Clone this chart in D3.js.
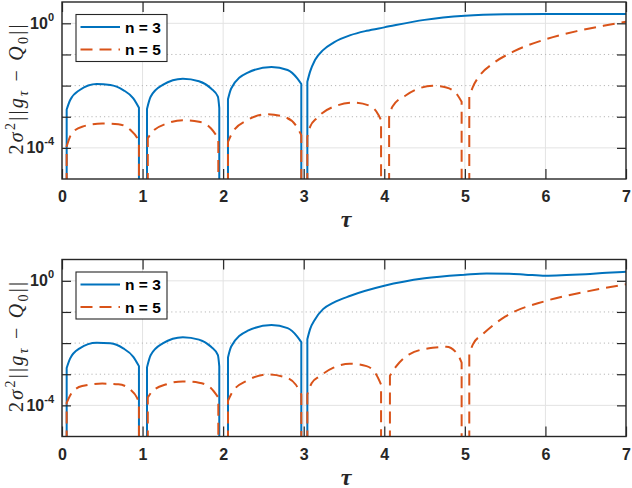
<!DOCTYPE html>
<html>
<head>
<meta charset="utf-8">
<script src="https://cdn.jsdelivr.net/npm/d3@7"></script>
<style>
  body { margin: 0; background: #fff; }
</style>
</head>
<body>
<div id="chart"></div>
<script>
// tick values
const xTicks = [0, 1, 2, 3, 4, 5, 6, 7];
const yTicks = [1e-4, 1e-3, 1e-2, 1e-1, 1];
const yLabelled = [1e-4, 1];
const seriesNames = ["n = 3", "n = 5"];

// each series is a list of arches, each arch a list of [tau, value]
// (the curve falls off the bottom of the axes at both ends of an arch)
const top3 = [
  [[0.058, 1.7e-3], [0.1, 3.39e-3], [0.22, 7.24e-3], [0.43, 1.12e-2], [0.6, 1.05e-2], [0.76, 7.2e-3], [0.885, 3.9e-3], [0.955, 1.95e-3]],
  [[1.055, 1.78e-3], [1.1, 4.37e-3], [1.25, 1.05e-2], [1.5, 1.66e-2], [1.7, 1.38e-2], [1.85, 8.1e-3], [1.935, 4.4e-3], [1.952, 1.9e-3]],
  [[2.06, 3.63e-3], [2.1, 8.1e-3], [2.3, 2.57e-2], [2.6, 3.98e-2], [2.8, 3.16e-2], [2.92, 1.7e-2], [2.97, 1.12e-2]],
  [[3.045, 1.32e-2], [3.078, 2.75e-2], [3.14, 6.6e-2], [3.24, 0.138], [3.37, 0.24], [3.58, 0.417], [3.78, 0.575],
   [4.0, 0.741], [4.5, 1.29], [5.0, 1.74], [5.5, 1.95], [6.0, 2.0], [7.0, 2.0]]
];
const top5 = [
  [[0.058, 1.12e-4], [0.12, 2.88e-4], [0.25, 4.79e-4], [0.5, 6.03e-4], [0.7, 5.75e-4], [0.85, 3.72e-4], [0.93, 2.14e-4], [0.955, 1.58e-4]],
  [[1.065, 2.04e-4], [1.12, 3.24e-4], [1.3, 6.03e-4], [1.5, 7.76e-4], [1.7, 6.92e-4], [1.85, 4.17e-4], [1.94, 2.0e-4]],
  [[2.06, 1.55e-4], [2.12, 3.24e-4], [2.3, 7.76e-4], [2.55, 1.2e-3], [2.75, 1.0e-3], [2.9, 5.37e-4], [2.97, 2.57e-4]],
  [[3.045, 2.24e-4], [3.08, 4.79e-4], [3.16, 8.9e-4], [3.37, 2.09e-3], [3.62, 2.82e-3], [3.83, 2.19e-3], [3.93, 1.12e-3], [3.96, 7.76e-4]],
  [[4.06, 1.0e-3], [4.1, 2.09e-3], [4.27, 4.9e-3], [4.6, 9.8e-3], [4.77, 8.7e-3], [4.91, 4.9e-3], [4.96, 3.02e-3]],
  [[5.055, 4.37e-3], [5.1, 9.1e-3], [5.19, 2.19e-2], [5.35, 5.13e-2], [5.6, 0.123], [5.97, 0.288], [6.39, 0.562], [6.72, 0.832], [7.0, 1.12]]
];
const bottom3 = [
  [[0.058, 1.58e-3], [0.1, 3.16e-3], [0.22, 6.76e-3], [0.43, 1.02e-2], [0.6, 9.8e-3], [0.76, 6.76e-3], [0.885, 3.63e-3], [0.955, 1.82e-3]],
  [[1.055, 1.66e-3], [1.1, 4.07e-3], [1.25, 9.8e-3], [1.5, 1.55e-2], [1.7, 1.29e-2], [1.85, 7.6e-3], [1.935, 4.07e-3], [1.952, 1.78e-3]],
  [[2.06, 3.47e-3], [2.1, 7.76e-3], [2.3, 2.45e-2], [2.6, 3.8e-2], [2.8, 3.02e-2], [2.92, 1.62e-2], [2.97, 1.07e-2]],
  [[3.045, 1.32e-2], [3.078, 2.75e-2], [3.14, 5.75e-2], [3.24, 0.123], [3.37, 0.2], [3.58, 0.331], [4.0, 0.69], [4.5, 1.2],
   [5.0, 1.57], [5.27, 1.73], [5.55, 1.69], [5.75, 1.58], [6.0, 1.45], [6.26, 1.53], [6.5, 1.64], [6.76, 1.82], [7.0, 1.95]]
];
const bottom5 = [
  [[0.058, 1.2e-4], [0.12, 2.51e-4], [0.25, 4.17e-4], [0.5, 5.0e-4], [0.7, 4.79e-4], [0.85, 3.16e-4], [0.93, 1.78e-4], [0.955, 1.26e-4]],
  [[1.065, 1.78e-4], [1.12, 2.82e-4], [1.3, 4.79e-4], [1.5, 5.89e-4], [1.7, 5.37e-4], [1.85, 3.55e-4], [1.94, 1.78e-4]],
  [[2.06, 1.41e-4], [2.12, 2.82e-4], [2.3, 6.31e-4], [2.55, 9.8e-4], [2.75, 8.3e-4], [2.9, 4.68e-4], [2.97, 2.24e-4]],
  [[3.045, 2.24e-4], [3.1, 5.25e-4], [3.2, 8.7e-4], [3.37, 1.62e-3], [3.57, 2.19e-3], [3.78, 1.82e-3], [3.9, 9.8e-4], [3.96, 4.68e-4]],
  [[4.07, 8.9e-4], [4.15, 1.82e-3], [4.31, 4.37e-3], [4.6, 7.08e-3], [4.77, 7.59e-3], [4.91, 4.37e-3], [4.96, 2.34e-3]],
  [[5.055, 4.37e-3], [5.1, 9.1e-3], [5.22, 1.91e-2], [5.5, 7.08e-2], [6.0, 0.224], [6.5, 0.447], [7.0, 0.776]]
];

const width = 632, height = 488;
const margin = { left: 62, right: 6 };
const panelH = 177;
const panels = [
  { top: 2, s3: top3, s5: top5 },
  { top: 259.5, s3: bottom3, s5: bottom5 }
];
const colors = ["#0072BD", "#D95319"];
const axisColor = "#262626";
const sansFont = "'Liberation Sans', Arial, Helvetica, sans-serif";
const serifFont = "'Liberation Serif', 'Times New Roman', serif";

const svg = d3.select("#chart").append("svg")
  .attr("width", width)
  .attr("height", height)
  .style("background-color", "#FFFFFF");

const x = d3.scaleLinear().domain([0, 7]).range([margin.left, width - margin.right]);

panels.forEach(function(p, pi) {
  const bottomY = p.top + panelH;
  const y = d3.scaleLog().domain([1e-5, 4.84]).range([bottomY, p.top]);
  const g = svg.append("g");

  // clip for the lines
  const clipId = "clip" + pi;
  svg.append("clipPath").attr("id", clipId)
    .append("rect")
    .attr("x", x(0)).attr("y", p.top)
    .attr("width", x(7) - x(0)).attr("height", panelH);

  // grid
  g.selectAll(".xgrid").data(xTicks).enter().append("line")
    .attr("x1", d => x(d)).attr("x2", d => x(d))
    .attr("y1", p.top).attr("y2", bottomY)
    .attr("stroke", "#e3e3e3").attr("stroke-width", 1);
  g.selectAll(".ygrid").data(yTicks).enter().append("line")
    .attr("x1", x(0)).attr("x2", x(7))
    .attr("y1", d => y(d)).attr("y2", d => y(d))
    .attr("stroke", d => yLabelled.includes(d) ? "#e3e3e3" : "#b8b8b8")
    .attr("stroke-width", 1)
    .attr("stroke-dasharray", d => yLabelled.includes(d) ? null : "1.2,3");

  // lines
  const line = d3.line().x(d => x(d[0])).y(d => y(d[1])).curve(d3.curveMonotoneX);
  const floorY = bottomY + 6;
  function archPath(arch, isLast) {
    const body = line(arch);
    const x0 = x(arch[0][0]);
    const xn = x(arch[arch.length - 1][0]);
    let s = "M" + x0 + "," + floorY + "L" + body.slice(1);
    if (!isLast) s += "L" + xn + "," + floorY;
    return s;
  }
  [p.s3, p.s5].forEach(function(series, si) {
    const lg = g.append("g").attr("clip-path", "url(#" + clipId + ")");
    series.forEach(function(arch, ai) {
      lg.append("path")
        .attr("d", archPath(arch, ai === series.length - 1))
        .attr("fill", "none")
        .attr("stroke", colors[si])
        .attr("stroke-width", 2)
        .attr("stroke-linejoin", "round")
        .attr("stroke-dasharray", si === 1 ? "12,7" : null);
    });
  });

  // axes (inward ticks on all four sides)
  const xAxis = g.append("g")
    .attr("transform", "translate(0," + bottomY + ")")
    .call(d3.axisBottom(x).tickValues(xTicks).tickFormat(d3.format("d"))
      .tickSizeInner(-10).tickSizeOuter(0).tickPadding(12));
  xAxis.select(".domain").remove();
  xAxis.selectAll(".tick line").attr("stroke", axisColor).attr("stroke-width", 1.2);
  xAxis.selectAll(".tick text")
    .attr("font-family", sansFont).attr("font-weight", "bold")
    .attr("font-size", 16).attr("fill", axisColor);

  const xTop = g.append("g")
    .attr("transform", "translate(0," + p.top + ")")
    .call(d3.axisTop(x).tickValues(xTicks).tickSizeInner(-10).tickSizeOuter(0).tickFormat(""));
  xTop.select(".domain").remove();
  xTop.selectAll(".tick line").attr("stroke", axisColor).attr("stroke-width", 1.2);

  const yAxis = g.append("g")
    .attr("transform", "translate(" + x(0) + ",0)")
    .call(d3.axisLeft(y).tickValues(yTicks).tickSizeInner(-9).tickSizeOuter(0).tickPadding(8).tickFormat(""));
  yAxis.select(".domain").remove();
  yAxis.selectAll(".tick line").attr("stroke", axisColor).attr("stroke-width", 1.2);
  yAxis.selectAll(".tick text").each(function(d) {
    if (!yLabelled.includes(d)) return;
    const t = d3.select(this)
      .attr("font-family", sansFont).attr("font-weight", "bold")
      .attr("fill", axisColor).attr("dy", "0.5em");
    t.append("tspan").attr("font-size", 16).text("10");
    t.append("tspan").attr("font-size", 11).attr("dy", "-0.75em")
      .text(String(Math.round(Math.log10(d))));
  });

  const yRight = g.append("g")
    .attr("transform", "translate(" + x(7) + ",0)")
    .call(d3.axisRight(y).tickValues(yTicks).tickSizeInner(-9).tickSizeOuter(0).tickFormat(""));
  yRight.select(".domain").remove();
  yRight.selectAll(".tick line").attr("stroke", axisColor).attr("stroke-width", 1.2);

  // box
  g.append("rect")
    .attr("x", x(0)).attr("y", p.top)
    .attr("width", x(7) - x(0)).attr("height", panelH)
    .attr("fill", "none").attr("stroke", axisColor).attr("stroke-width", 1.4);

  // legend
  const lgX = 76, lgY = p.top + 12.5, lgW = 91, lgH = 47;
  const leg = g.append("g");
  leg.append("rect")
    .attr("x", lgX).attr("y", lgY).attr("width", lgW).attr("height", lgH)
    .attr("fill", "#fff").attr("stroke", axisColor).attr("stroke-width", 1.1);
  seriesNames.forEach(function(name, i) {
    const ly = lgY + 12.5 + i * 22.5;
    leg.append("line")
      .attr("x1", lgX + 4.5).attr("x2", lgX + 44)
      .attr("y1", ly).attr("y2", ly)
      .attr("stroke", colors[i]).attr("stroke-width", 2)
      .attr("stroke-dasharray", i === 1 ? "12,7" : null);
    leg.append("text")
      .attr("x", lgX + 49).attr("y", ly).attr("dy", "0.36em")
      .attr("font-family", sansFont).attr("font-weight", "bold")
      .attr("font-size", 15.5).attr("fill", "#000")
      .text(name);
  });

  // x label
  g.append("text")
    .attr("x", (x(0) + x(7)) / 2 + 2).attr("y", bottomY + 48)
    .attr("text-anchor", "middle")
    .attr("font-family", serifFont).attr("font-style", "italic").attr("font-weight", "bold")
    .attr("font-size", 24).attr("fill", axisColor)
    .text("τ");

  // y label: 2σ²||g_τ − Q_0||
  const parts = [
    { t: "2" }, { t: "σ", i: true }, { t: "2", s: "sup" }, { t: "||" },
    { t: "g", i: true }, { t: "τ", i: true, s: "sub" }, { t: " − " },
    { t: "Q", i: true }, { t: "0", s: "sub" }, { t: "||" }
  ];
  const fs = 20;
  const yl = g.append("text")
    .attr("transform", "translate(22.5," + (p.top + panelH / 2 - 1) + ") rotate(-90)")
    .attr("text-anchor", "middle")
    .attr("font-family", serifFont).attr("fill", axisColor)
    .attr("font-size", fs)
    .attr("textLength", 130).attr("lengthAdjust", "spacing")
    .attr("xml:space", "preserve");
  let shift = 0;
  parts.forEach(function(part) {
    const target = part.s === "sup" ? -0.4 * fs : part.s === "sub" ? 0.25 * fs : 0;
    yl.append("tspan")
      .attr("dy", target - shift)
      .attr("font-size", part.s ? fs * 0.7 : fs)
      .attr("font-style", part.i ? "italic" : "normal")
      .text(part.t);
    shift = target;
  });
});
</script>
</body>
</html>
